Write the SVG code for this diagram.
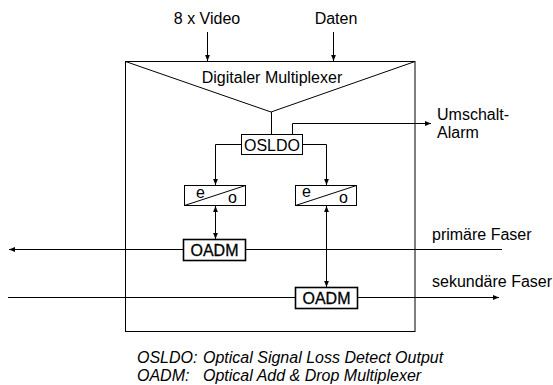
<svg xmlns="http://www.w3.org/2000/svg" width="553" height="385" viewBox="0 0 553 385">
<style>
text{font-family:"Liberation Sans",Arial,sans-serif;font-size:16px;fill:#000}
.ln{stroke:#000;stroke-width:1;fill:none}
.bx{stroke:#000;stroke-width:1;fill:#fff}
.bx2{stroke:#000;stroke-width:1.6;fill:#fff}
.it{font-style:italic}
.m{text-anchor:middle}
.b{stroke:#000;stroke-width:0.3}
</style>
<defs>
<marker id="ah" viewBox="0 0 10 10" refX="10" refY="5" markerWidth="6" markerHeight="6" markerUnits="userSpaceOnUse" orient="auto-start-reverse"><path d="M0,1 L10,5 L0,9 Z" fill="#000"/></marker>
</defs>
<g id="frame">
<rect class="ln" x="125.5" y="61.5" width="289.5" height="270"/>
<path class="ln" d="M125.5,61.5 L271,112 L415,61.5"/>
<text class="m" x="272" y="83">Digitaler Multiplexer</text>
</g>
<g id="osldo"><rect class="bx" x="241.5" y="134.5" width="61" height="20"/><text class="m" x="272" y="151">OSLDO</text></g>
<g id="eo1"><rect class="bx" x="184.5" y="185.5" width="61" height="20"/><path class="ln" d="M184.5,205.5 L245.5,185.5"/><text x="196" y="198">e</text><text x="228" y="203">o</text></g>
<g id="eo2"><rect class="bx" x="295.5" y="185.5" width="61" height="20"/><path class="ln" d="M295.5,205.5 L356.5,185.5"/><text x="302" y="197">e</text><text x="339" y="203">o</text></g>
<g id="connectors">
<path class="ln" d="M207.5,32 L207.5,61" marker-end="url(#ah)"/>
<path class="ln" d="M333.5,32 L333.5,61" marker-end="url(#ah)"/>
<path class="ln" d="M271.5,112 L271.5,134"/>
<path class="ln" d="M292.5,134 L292.5,123.5 L431,123.5" marker-end="url(#ah)"/>
<path class="ln" d="M241,144.5 L215.5,144.5 L215.5,185" marker-end="url(#ah)"/>
<path class="ln" d="M303,144.5 L326.5,144.5 L326.5,185" marker-end="url(#ah)"/>
<path class="ln" d="M215.5,206 L215.5,239" marker-start="url(#ah)" marker-end="url(#ah)"/>
<path class="ln" d="M326.5,206 L326.5,287" marker-start="url(#ah)" marker-end="url(#ah)"/>
<path class="ln" d="M502,249.5 L9,249.5" marker-end="url(#ah)"/>
<path class="ln" d="M8,297.5 L499,297.5" marker-end="url(#ah)"/>
</g>
<g id="oadm1"><rect class="bx2" x="183.5" y="239.5" width="62" height="21"/><text class="m b" x="214.5" y="256">OADM</text></g>
<g id="oadm2"><rect class="bx2" x="295.5" y="287.5" width="62" height="21"/><text class="m b" x="326.5" y="304">OADM</text></g>
<g id="labels">
<text class="m" x="207" y="24">8 x Video</text>
<text class="m" x="336" y="24">Daten</text>
<text x="437" y="120">Umschalt-</text>
<text x="437" y="138">Alarm</text>
<text x="432" y="240">primäre Faser</text>
<text x="432" y="287">sekundäre Faser</text>
<text class="it" x="137" y="363">OSLDO:</text>
<text class="it" x="203" y="363">Optical Signal Loss Detect Output</text>
<text class="it" x="137" y="381">OADM:</text>
<text class="it" x="203" y="381">Optical Add &amp; Drop Multiplexer</text>
</g>
</svg>
